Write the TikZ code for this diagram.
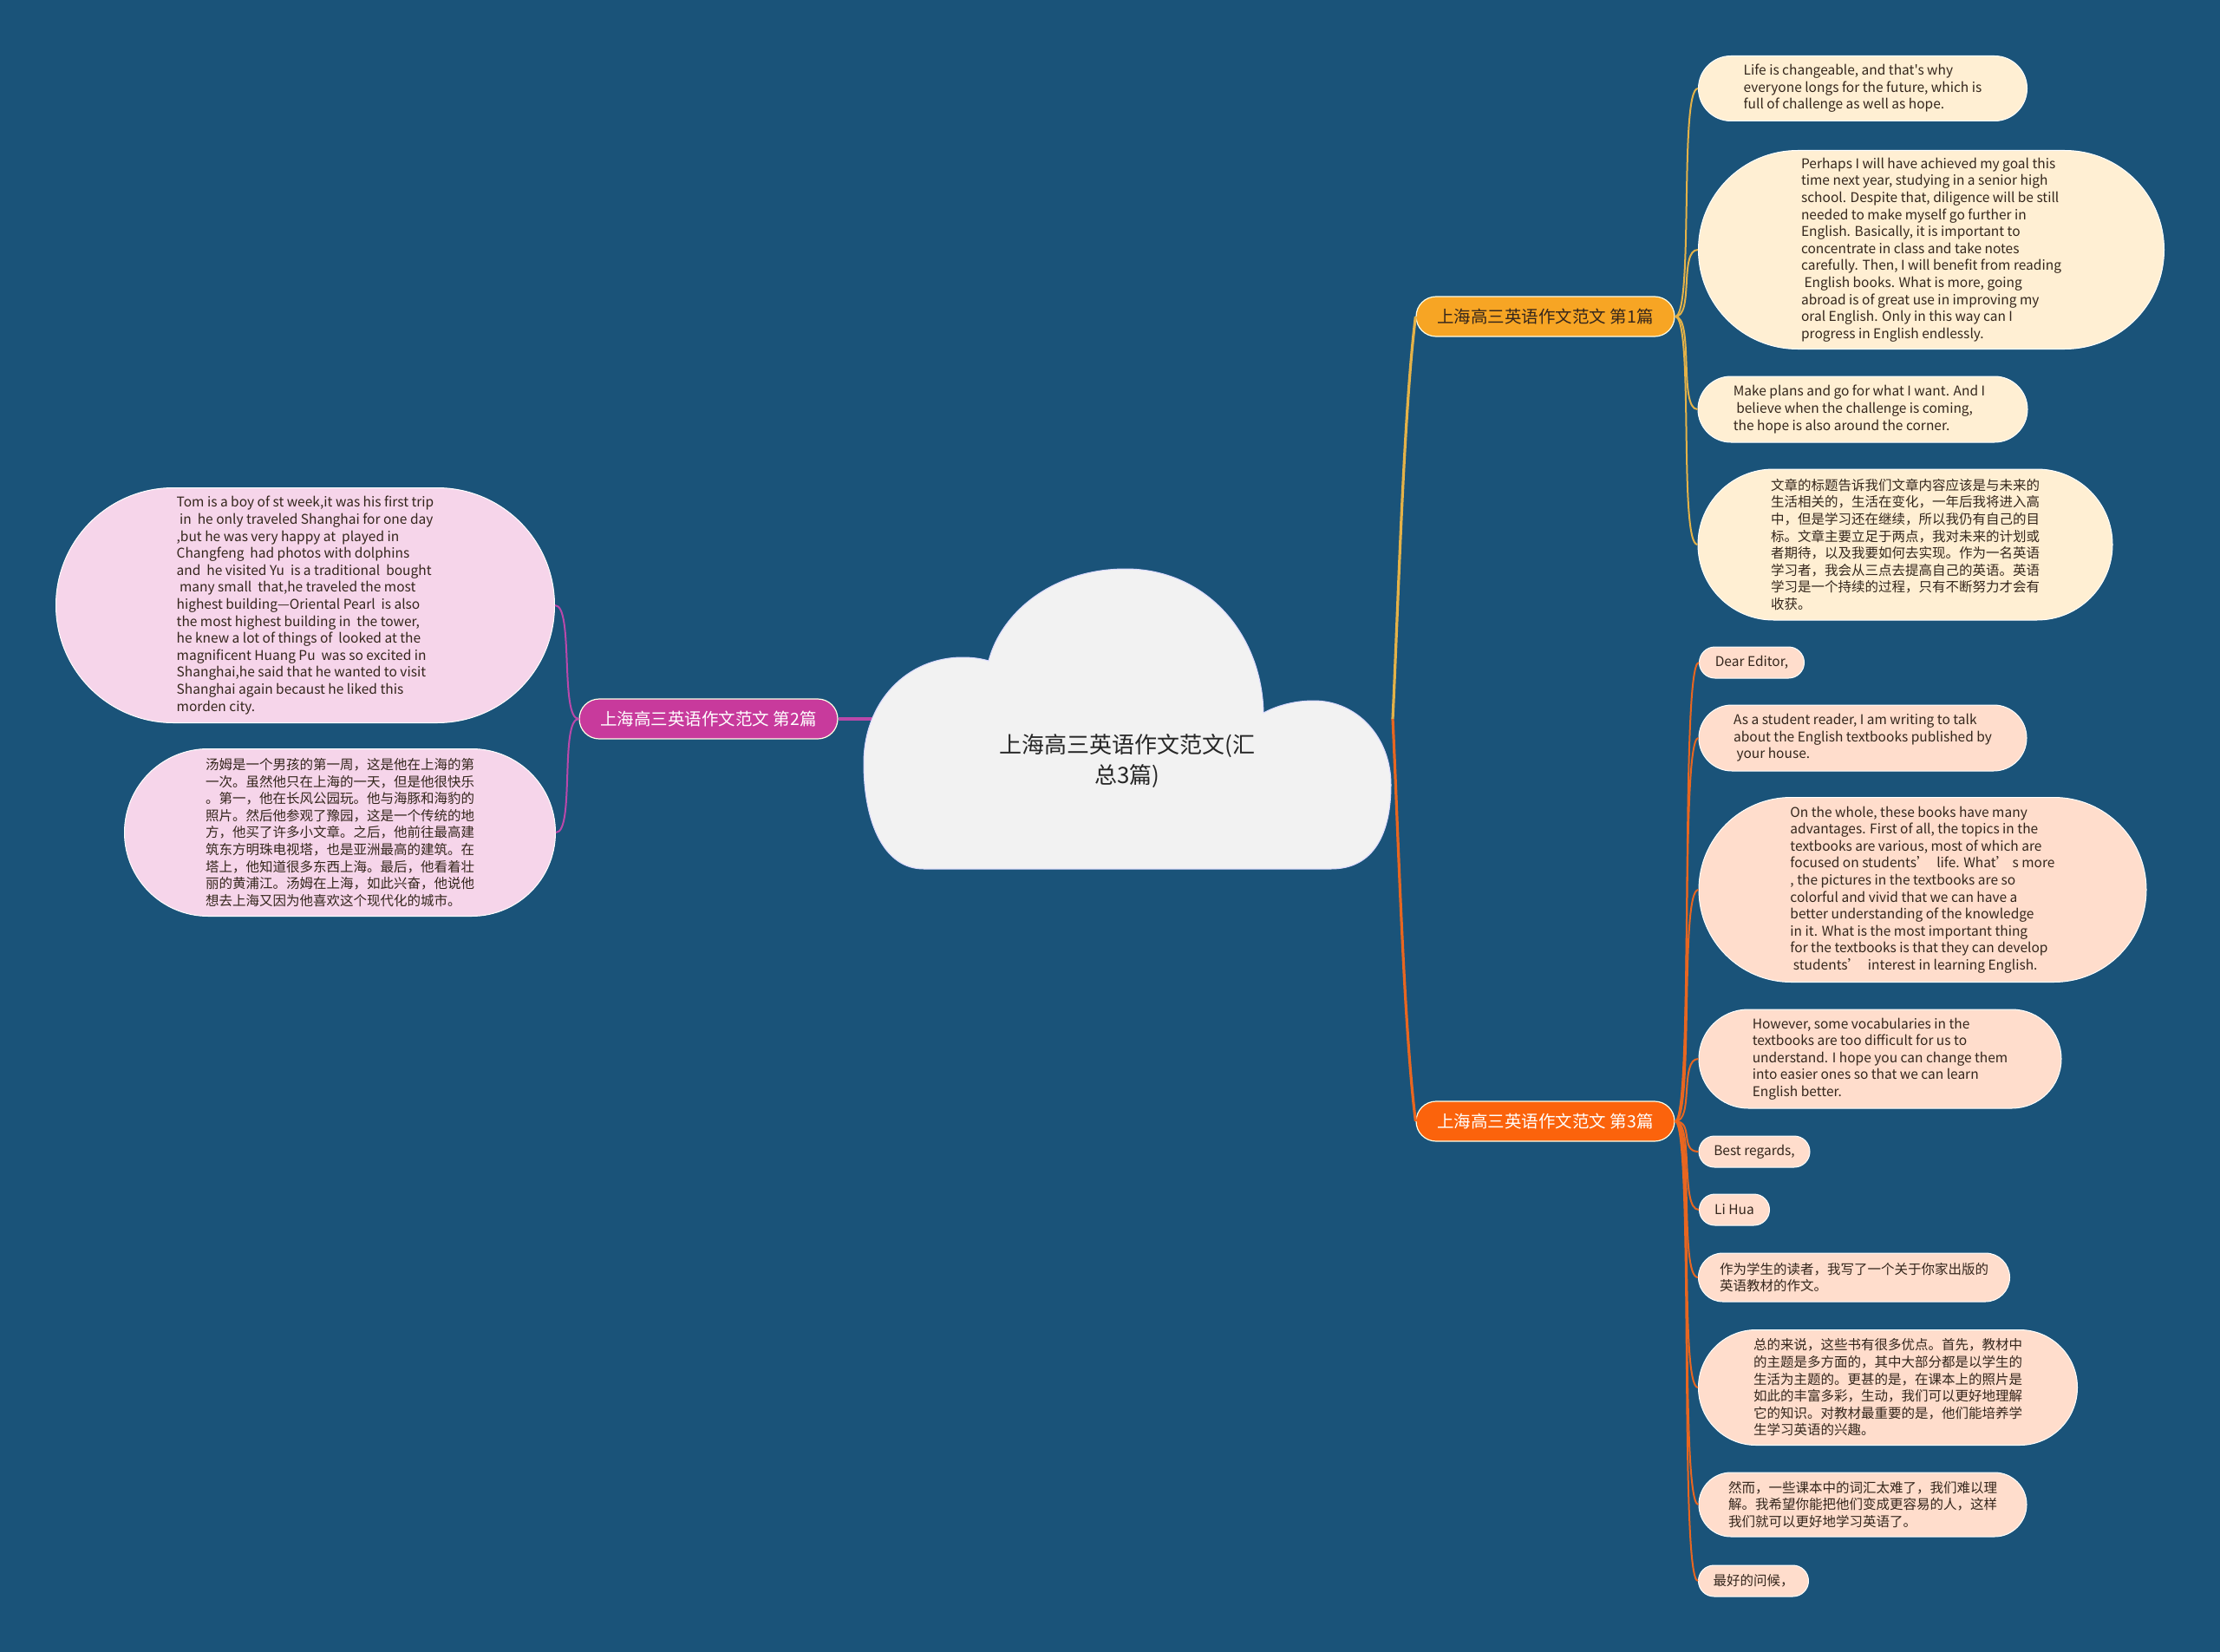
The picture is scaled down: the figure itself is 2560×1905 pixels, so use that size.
\documentclass[tikz,border=0pt]{standalone}
\usepackage{fontspec}
\newfontfamily\cjkfont{Noto Sans CJK SC}
\usetikzlibrary{shapes.misc}
\definecolor{bgblue}{RGB}{26,83,121}
\definecolor{cloudfill}{RGB}{242,242,242}
\definecolor{yellowfill}{RGB}{247,165,36}
\definecolor{orangefill}{RGB}{251,99,12}
\definecolor{magentafill}{RGB}{200,58,156}
\definecolor{yellowline}{RGB}{228,178,72}
\definecolor{orangeline}{RGB}{232,102,32}
\definecolor{magentaline}{RGB}{186,72,170}
\definecolor{creamfill}{RGB}{255,239,211}
\definecolor{peachfill}{RGB}{255,221,204}
\definecolor{pinkfill}{RGB}{246,213,234}
\definecolor{leaftext}{RGB}{52,38,28}
\begin{document}
\begin{tikzpicture}[x=1pt,y=-1pt,
  branch/.style={rounded rectangle, draw=white!90!yellow, line width=1.2pt, inner sep=0pt,
    minimum width=298pt, minimum height=46pt, font=\cjkfont\fontsize{19.5}{24}\selectfont},
  leaf/.style={rounded rectangle, draw=white, line width=1pt, inner sep=0pt, align=left,
    text=leaftext, font=\cjkfont\fontsize{15.5}{19.6}\selectfont},
  cream/.style={leaf, fill=creamfill},
  peach/.style={leaf, fill=peachfill},
  pink/.style={leaf, fill=pinkfill},
  ylink/.style={draw=yellowline, line width=2pt},
  olink/.style={draw=orangeline, line width=2pt},
  mlink/.style={draw=magentaline, line width=2pt}]
\useasboundingbox (0,0) rectangle (2560,1905);
\fill[bgblue] (0,0) rectangle (2560,1905);

% main branches
\node[branch, fill=yellowfill, text=leaftext] (b1) at (1782,365) {上海高三英语作文范文 第1篇};
\node[branch, fill=magentafill, text=white] (b2) at (817,829) {上海高三英语作文范文 第2篇};
\node[branch, fill=orangefill, text=white] (b3) at (1782,1293) {上海高三英语作文范文 第3篇};

% 第1篇
\node[cream, minimum width=379pt, minimum height=75pt] (t1a) at (2148,102)
  {Life is changeable, and that's why\\everyone longs for the future, which is\hspace*{14pt}\\full of challenge as well as hope.};
\node[cream, minimum width=537pt, minimum height=229pt] (t1b) at (2227,288)
  {Perhaps I will have achieved my goal this\\time next year, studying in a senior high\\school. Despite that, diligence will be still\\needed to make myself go further in\\English. Basically, it is important to\\concentrate in class and take notes\\carefully. Then, I will benefit from reading\\\ English books. What is more, going\\abroad is of great use in improving my\\oral English. Only in this way can I\\progress in English endlessly.};
\node[cream, minimum width=380pt, minimum height=76pt] (t1c) at (2148,472)
  {Make plans and go for what I want. And I\hspace*{8pt}\\\ believe when the challenge is coming,\\the hope is also around the corner.};
\node[cream, minimum width=478pt, minimum height=174pt] (t1d) at (2197,628)
  {文章的标题告诉我们文章内容应该是与未来的\\生活相关的，生活在变化，一年后我将进入高\\中，但是学习还在继续，所以我仍有自己的目\\标。文章主要立足于两点，我对未来的计划或\\者期待，以及我要如何去实现。作为一名英语\\学习者，我会从三点去提高自己的英语。英语\\学习是一个持续的过程，只有不断努力才会有\\收获。};

% 第3篇
\node[peach, minimum width=121pt, minimum height=36pt] (t3a) at (2020,764) {Dear Editor,};
\node[peach, minimum width=378pt, minimum height=76pt] (t3b) at (2148,851)
  {As a student reader, I am writing to talk\\about the English textbooks published by\\\ your house.};
\node[peach, minimum width=516pt, minimum height=213pt] (t3c) at (2217,1026)
  {On the whole, these books have many\\advantages. First of all, the topics in the\\textbooks are various, most of which are\\focused on students’\hspace{0.5em}life. What’ s more\\, the pictures in the textbooks are so\\colorful and vivid that we can have a\\better understanding of the knowledge\\in it. What is the most important thing\\for the textbooks is that they can develop\\\ students’\hspace{0.5em}interest in learning English.};
\node[peach, minimum width=418pt, minimum height=114pt] (t3d) at (2168,1221)
  {However, some vocabularies in the\\textbooks are too difficult for us to\\understand. I hope you can change them\\into easier ones so that we can learn\\English better.};
\node[peach, minimum width=128pt, minimum height=36pt] (t3e) at (2023,1328) {Best regards,};
\node[peach, minimum width=81pt, minimum height=36pt] (t3f) at (2000,1395) {Li Hua};
\node[peach, minimum width=359pt, minimum height=56pt] (t3g) at (2138,1473)
  {作为学生的读者，我写了一个关于你家出版的\\英语教材的作文。};
\node[peach, minimum width=437pt, minimum height=133pt] (t3h) at (2177,1600)
  {总的来说，这些书有很多优点。首先，教材中\\的主题是多方面的，其中大部分都是以学生的\\生活为主题的。更甚的是，在课本上的照片是\\如此的丰富多彩，生动，我们可以更好地理解\\它的知识。对教材最重要的是，他们能培养学\\生学习英语的兴趣。};
\node[peach, minimum width=378pt, minimum height=74pt] (t3i) at (2148,1735)
  {然而，一些课本中的词汇太难了，我们难以理\\解。我希望你能把他们变成更容易的人，这样\\我们就可以更好地学习英语了。};
\node[peach, minimum width=127pt, minimum height=36pt] (t3j) at (2022,1823) {最好的问候，};

% 第2篇
\node[pink, minimum width=575pt, minimum height=271pt] (t2a) at (352,698)
  {Tom is a boy of st week,it was his first trip\\\ in~ he only traveled Shanghai for one day\\,but he was very happy at~ played in\\Changfeng~ had photos with dolphins\\and~ he visited Yu~ is a traditional~ bought\\\ many small~ that,he traveled the most\\highest building—Oriental Pearl~ is also\\the most highest building in~ the tower,\\he knew a lot of things of~ looked at the\\magnificent Huang Pu~ was so excited in\\Shanghai,he said that he wanted to visit\\Shanghai again becaust he liked this\\morden city.};
\node[pink, minimum width=497pt, minimum height=193pt] (t2b) at (392,960)
  {汤姆是一个男孩的第一周，这是他在上海的第\\一次。虽然他只在上海的一天，但是他很快乐\\。第一，他在长风公园玩。他与海豚和海豹的\\照片。然后他参观了豫园，这是一个传统的地\\方，他买了许多小文章。之后，他前往最高建\\筑东方明珠电视塔，也是亚洲最高的建筑。在\\塔上，他知道很多东西上海。最后，他看着壮\\丽的黄浦江。汤姆在上海，如此兴奋，他说他\\想去上海又因为他喜欢这个现代化的城市。};

% connectors
\coordinate (jn) at (1606,829);
\coordinate (jm) at (1020,829);
\draw[ylink, line width=3.2pt] (jn) .. controls +(6,-120) and +(-14,110) .. (b1.west);
\draw[olink, line width=3.2pt] (jn) .. controls +(6,120) and +(-14,-110) .. (b3.west);
\draw[mlink, line width=3.2pt] (b2.east) -- (jm);
\draw[ylink] (b1.east) .. controls +(22,0) and +(-22,0) .. (t1a.west);
\draw[ylink] (b1.east) .. controls +(22,0) and +(-22,0) .. (t1b.west);
\draw[ylink] (b1.east) .. controls +(22,0) and +(-22,0) .. (t1c.west);
\draw[ylink] (b1.east) .. controls +(22,0) and +(-22,0) .. (t1d.west);
\draw[olink] (b3.east) .. controls +(22,0) and +(-22,0) .. (t3a.west);
\draw[olink] (b3.east) .. controls +(22,0) and +(-22,0) .. (t3b.west);
\draw[olink] (b3.east) .. controls +(22,0) and +(-22,0) .. (t3c.west);
\draw[olink] (b3.east) .. controls +(22,0) and +(-22,0) .. (t3d.west);
\draw[olink] (b3.east) .. controls +(22,0) and +(-22,0) .. (t3e.west);
\draw[olink] (b3.east) .. controls +(22,0) and +(-22,0) .. (t3f.west);
\draw[olink] (b3.east) .. controls +(22,0) and +(-22,0) .. (t3g.west);
\draw[olink] (b3.east) .. controls +(22,0) and +(-22,0) .. (t3h.west);
\draw[olink] (b3.east) .. controls +(22,0) and +(-22,0) .. (t3i.west);
\draw[olink] (b3.east) .. controls +(22,0) and +(-22,0) .. (t3j.west);
\draw[mlink] (b2.west) .. controls +(-22,0) and +(22,0) .. (t2a.east);
\draw[mlink] (b2.west) .. controls +(-22,0) and +(22,0) .. (t2b.east);

% cloud
\draw[fill=cloudfill, draw=white!85!blue, line width=1pt]
  (1065,1002) -- (1535,1002)
  .. controls (1585,1002) and (1604,960) .. (1604,905)
  .. controls (1604,850) and (1565,808) .. (1515,808)
  .. controls (1490,808) and (1470,815) .. (1457,822)
  .. controls (1455,730) and (1390,656) .. (1298,656)
  .. controls (1215,656) and (1155,705) .. (1140,762)
  .. controls (1130,759) and (1120,758) .. (1110,758)
  .. controls (1045,758) and (996,810) .. (996,880)
  .. controls (996,950) and (1020,1002) .. (1065,1002)
  -- cycle;
\node[align=center, text=black!85, font=\cjkfont\fontsize{26}{35}\selectfont] (root) at (1300,878)
  {上海高三英语作文范文(汇\\总3篇)};
\end{tikzpicture}
\end{document}
